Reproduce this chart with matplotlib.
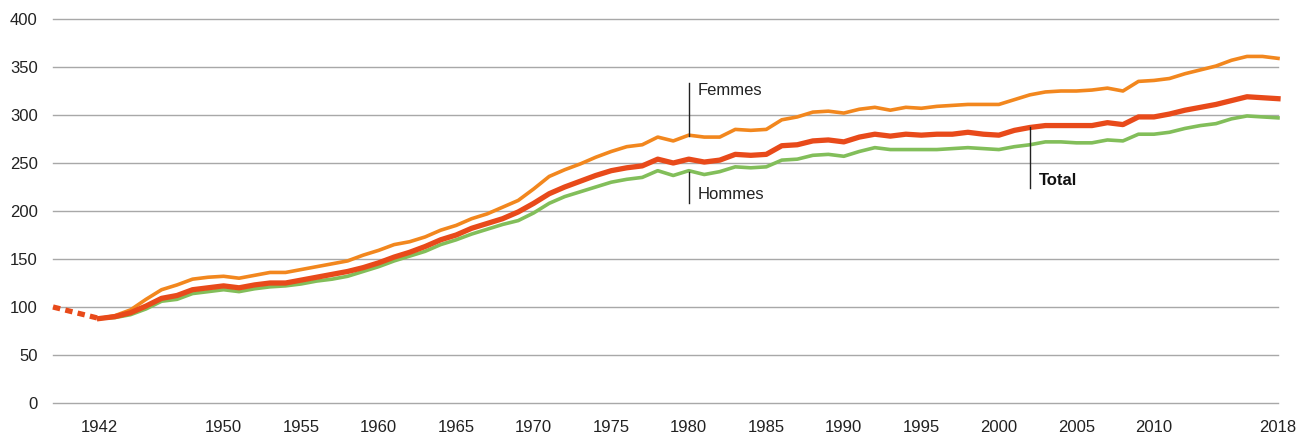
import numpy as np
import matplotlib
matplotlib.use('Agg')
import matplotlib.pyplot as plt

plt.rcParams['font.family'] = ['Liberation Sans', 'DejaVu Sans']

# indice base 100 en 1939
years = np.arange(1942, 2019)
prewar_years = [1939, 1942]
prewar_total = [100, 88]

total = [88, 90, 94, 101, 109, 112, 118, 120, 122, 120, 123, 125, 125, 128, 131, 134, 137, 141, 146, 152,
         157, 163, 170, 175, 182, 187, 192, 199, 208, 218, 225, 231, 237, 242, 245, 247, 254, 250, 254, 251,
         253, 259, 258, 259, 268, 269, 273, 274, 272, 277, 280, 278, 280, 279, 280, 280, 282, 280, 279, 284,
         287, 289, 289, 289, 289, 292, 290, 298, 298, 301, 305, 308, 311, 315, 319, 318, 317]
femmes = [88, 91, 97, 108, 118, 123, 129, 131, 132, 130, 133, 136, 136, 139, 142, 145, 148, 154, 159, 165,
          168, 173, 180, 185, 192, 197, 204, 211, 223, 236, 243, 249, 256, 262, 267, 269, 277, 273, 279, 277,
          277, 285, 284, 285, 295, 298, 303, 304, 302, 306, 308, 305, 308, 307, 309, 310, 311, 311, 311, 316,
          321, 324, 325, 325, 326, 328, 325, 335, 336, 338, 343, 347, 351, 357, 361, 361, 359]
hommes = [88, 89, 92, 98, 106, 108, 114, 116, 118, 116, 119, 121, 122, 124, 127, 129, 132, 137, 142, 148,
          153, 158, 165, 170, 176, 181, 186, 190, 198, 208, 215, 220, 225, 230, 233, 235, 242, 237, 242, 238,
          241, 246, 245, 246, 253, 254, 258, 259, 257, 262, 266, 264, 264, 264, 264, 265, 266, 265, 264, 267,
          269, 272, 272, 271, 271, 274, 273, 280, 280, 282, 286, 289, 291, 296, 299, 298, 297]

xticks = [1942, 1950, 1955, 1960, 1965, 1970, 1975, 1980, 1985, 1990, 1995, 2000, 2005, 2010, 2018]
yticks = np.arange(0, 401, 50)

c_total = '#E84A1A'
c_femmes = '#F2871E'
c_hommes = '#82BE5A'

fig = plt.figure(figsize=(12.99, 4.36), dpi=100)
ax = fig.add_axes([53 / 1299, 33 / 436, 1225 / 1299, 384 / 436])

ax.plot(years, hommes, color=c_hommes, lw=2.6, solid_joinstyle='round', clip_on=False)
ax.plot(years, femmes, color=c_femmes, lw=2.6, solid_joinstyle='round', clip_on=False)
ax.plot(years, total, color=c_total, lw=3.8, solid_joinstyle='round', clip_on=False)
ax.plot(prewar_years, prewar_total, color=c_total, lw=3.8, linestyle=(0, (1.4, 1.0)),
        dash_capstyle='butt', clip_on=False)

# annotations
ax.plot([1980, 1980], [278, 333], color='#222222', lw=1)
ax.text(1980.55, 325, 'Femmes', fontsize=12, va='center', ha='left', color='#222222')
ax.plot([1980, 1980], [208, 241], color='#222222', lw=1)
ax.text(1980.55, 217, 'Hommes', fontsize=12, va='center', ha='left', color='#222222')
ax.plot([2002, 2002], [224, 287], color='#222222', lw=1)
ax.text(2002.55, 232, 'Total', fontsize=12, va='center', ha='left', fontweight='bold', color='#111111')

ax.set_xlim(1939, 2018)
ax.set_ylim(0, 400)
ax.set_xticks(xticks)
ax.set_xticklabels([str(t) for t in xticks])
ax.set_yticks(yticks)
ax.tick_params(axis='both', length=0, labelsize=12, colors='#222222')
ax.tick_params(axis='x', pad=12)
ax.tick_params(axis='y', pad=11)
ax.grid(axis='y', color='#A8A8A8', lw=1)
for gl in ax.get_ygridlines():
    gl.set_clip_on(False)
ax.set_axisbelow(True)
for s in ax.spines.values():
    s.set_visible(False)

fig.savefig('out.png', dpi=100)
